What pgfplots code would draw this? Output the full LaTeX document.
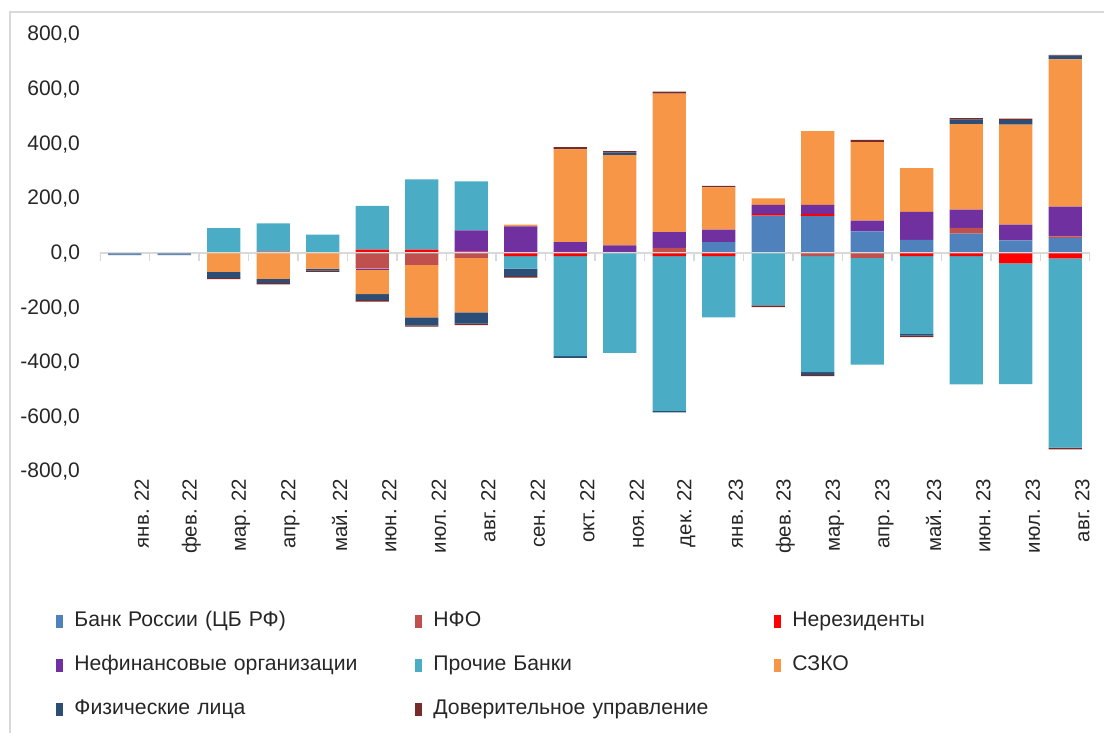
\documentclass[border=0pt]{standalone}
\usepackage{pgfplots}
\pgfplotsset{compat=1.18}
\usepackage{pgfplotstable}
\usepackage{fontspec}
\setmainfont{Liberation Sans}

\definecolor{cbr}{HTML}{4F81BD}
\definecolor{nfo}{HTML}{C0504D}
\definecolor{nonres}{HTML}{FF0000}
\definecolor{nonfin}{HTML}{7030A0}
\definecolor{othb}{HTML}{4BACC6}
\definecolor{szko}{HTML}{F79646}
\definecolor{phys}{HTML}{2C4D75}
\definecolor{trust}{HTML}{772C2A}
\definecolor{frame}{HTML}{D9D9D9}

% positive parts of each month (stacked upward)
\pgfplotstableread{
x cb nfo nr nf ob sz fz dv
0 0 0 0 0 0 4 0 0
1 0 0 0 0 5 0 0 0
2 0 0 0 0 93 0 0 0
3 0 0 7 0 103 0 0 0
4 0 0 0 0 69 0 0 0
5 0 0 14 0 160 0 0 0
6 0 0 14 0 257 0 0 0
7 0 0 7 78 179 0 0 0
8 0 0 0 99 0 7 0 0
9 0 6 0 36 0 339 0 8
10 0 6 0 24 0 330 10 5
11 0 21 0 57 0 507 0 8
12 42 0 0 45 0 155 0 6
13 139 0 6 33 0 24 0 0
14 137 0 8 33 0 270 0 0
15 81 0 0 39 0 288 0 8
16 50 0 0 102 0 161 0 0
17 73 21 0 67 0 313 16 6
18 48 0 0 58 0 366 16 6
19 57 6 0 109 0 539 13 3
}\tpos

% negative parts (stacked downward)
\pgfplotstableread{
x cb nfo nr nf ob sz fz dv
0 -3 0 0 0 0 0 -3 0
1 -3 0 0 0 0 0 -3 0
2 0 0 0 0 0 -67 -22 -5
3 0 0 0 0 0 -93 -15 -5
4 0 0 0 0 0 -55 -8 -4
5 0 -55 0 -6 0 -88 -21 -6
6 0 -42 0 0 0 -192 -29 -5
7 0 -16 0 0 0 -200 -41 -5
8 0 0 -10 0 -45 0 -28 -5
9 0 0 -10 0 -366 0 -6 0
10 0 0 0 0 -364 0 0 0
11 0 0 -10 0 -566 0 -6 0
12 0 0 -10 0 -224 0 0 0
13 0 0 0 0 -190 0 0 -6
14 0 -10 0 0 -424 0 -10 -5
15 0 -16 0 0 -391 0 0 0
16 0 0 -10 0 -284 0 -7 -5
17 0 0 -10 0 -469 0 0 0
18 0 0 -36 0 -442 0 0 0
19 0 0 -18 0 -693 0 0 -6
}\tneg

\pgfplotsset{
  base/.style={
    scale only axis, width=495pt, height=218.5pt,
    at={(0,0)}, anchor=south west,
    xmin=-0.5, xmax=19.5, ymin=-800, ymax=800,
    ybar stacked, bar width=0.67,
    axis line style={draw=none}, major tick length=0pt,
    every axis plot/.append style={draw=none},
  },
}

\begin{document}
\begin{tikzpicture}
% page = 1104x733 px at 0.5pt per px, axis box lower left at (0,0)
\path[use as bounding box] (-50pt,-130.5pt) rectangle (502pt,236pt);
\draw[frame, line width=0.6pt] (-45pt,-131pt) -- (-45pt,230pt) -- (503pt,230pt);

\begin{axis}[base, name=ax,
  xtick={0,...,19},
  xticklabels={янв. 22,фев. 22,мар. 22,апр. 22,май. 22,июн. 22,июл. 22,авг. 22,сен. 22,окт. 22,ноя. 22,дек. 22,янв. 23,фев. 23,мар. 23,апр. 23,май. 23,июн. 23,июл. 23,авг. 23},
  xticklabel style={rotate=90, anchor=east, yshift=-8.5pt, font=\fontsize{10.2}{12}\selectfont, text=black!85},
  ytick={-800,-600,...,800},
  yticklabel style={xshift=-6.5pt, font=\fontsize{10.5}{12}\selectfont, text=black!85,
    /pgf/number format/.cd, fixed, fixed zerofill, precision=1, use comma, 1000 sep={}, assume math mode=true},
  legend columns=3,
  legend image code/.code={\fill[#1] (0pt,-3.25pt) rectangle (3.5pt,3.25pt);},
  legend style={draw=none, fill=none, inner sep=0pt,
    at={(0,0)}, anchor=north west, xshift=-22pt, yshift=-70pt,
    font=\fontsize{10.6}{12}\selectfont, text=black!85,
    row sep=13pt, column sep=0pt,
    nodes={text width=165pt, text height=7pt, text depth=2pt, inner ysep=0pt, inner xsep=5.5pt, anchor=west}},
]
\addplot[fill=cbr] table[x=x,y=cb]{\tpos};
\addlegendentry{Банк России (ЦБ РФ)}
\addplot[fill=nfo] table[x=x,y=nfo]{\tpos};
\addlegendentry{НФО}
\addplot[fill=nonres] table[x=x,y=nr]{\tpos};
\addlegendentry{Нерезиденты}
\addplot[fill=nonfin] table[x=x,y=nf]{\tpos};
\addlegendentry{Нефинансовые организации}
\addplot[fill=othb] table[x=x,y=ob]{\tpos};
\addlegendentry{Прочие Банки}
\addplot[fill=szko] table[x=x,y=sz]{\tpos};
\addlegendentry{СЗКО}
\addplot[fill=phys] table[x=x,y=fz]{\tpos};
\addlegendentry{Физические лица}
\addplot[fill=trust] table[x=x,y=dv]{\tpos};
\addlegendentry{Доверительное управление}
\end{axis}

\begin{axis}[base, xtick=\empty, ytick=\empty]
\addplot[fill=cbr] table[x=x,y=cb]{\tneg};
\addplot[fill=nfo] table[x=x,y=nfo]{\tneg};
\addplot[fill=nonres] table[x=x,y=nr]{\tneg};
\addplot[fill=nonfin] table[x=x,y=nf]{\tneg};
\addplot[fill=othb] table[x=x,y=ob]{\tneg};
\addplot[fill=szko] table[x=x,y=sz]{\tneg};
\addplot[fill=phys] table[x=x,y=fz]{\tneg};
\addplot[fill=trust] table[x=x,y=dv]{\tneg};
% zero line with category boundary ticks
\draw[frame, line width=1pt] (axis cs:-0.5,0) -- (axis cs:19.5,0);
\pgfplotsinvokeforeach{-0.5,0.5,...,19.5}{
  \draw[frame, line width=0.8pt] (axis cs:#1,0) -- ++(0pt,-4pt);
}
\end{axis}
\end{tikzpicture}
\end{document}
